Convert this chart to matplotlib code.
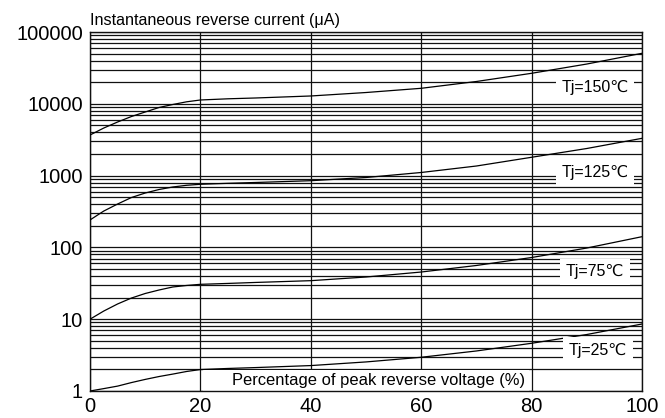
import matplotlib
matplotlib.use("Agg")
import matplotlib.pyplot as plt
from matplotlib.ticker import LogLocator, NullFormatter
from matplotlib.patches import Rectangle

plt.rcParams['font.family'] = ['Liberation Sans', 'DejaVu Sans']

# Percentage of peak reverse voltage (%)
pct = [0, 2.5, 5, 7.5, 10, 12.5, 15, 17.5, 20, 25, 30, 40, 50, 60, 70, 80, 90, 100]

# Instantaneous reverse current (uA)
tj150 = [3675, 4600, 5580, 6650, 7690, 8880, 9780, 10660, 11300, 11740, 12050, 12850, 14360, 16440, 20450, 26600, 35800, 50500]
tj125 = [241, 321, 402, 495, 572, 640, 694, 733, 757, 781, 802, 849, 941, 1105, 1360, 1800, 2385, 3305]
tj75 = [10, 13.0, 16.3, 19.7, 22.8, 25.5, 28.1, 29.5, 30.6, 31.5, 32.5, 34.4, 38.7, 45.4, 56, 72.3, 98, 141]
tj25 = [1.0, 1.08, 1.17, 1.31, 1.45, 1.59, 1.72, 1.87, 1.99, 2.06, 2.12, 2.26, 2.54, 2.95, 3.61, 4.62, 6.12, 8.57]

series = [tj150, tj125, tj75, tj25]
labels = ["Tj=150\u2103", "Tj=125\u2103", "Tj=75\u2103", "Tj=25\u2103"]
label_x = [91.5, 91.5, 91.5, 92.0]
label_y = [16600, 1120, 45.9, 3.7]

xticks = [0, 20, 40, 60, 80, 100]
yticks = [1, 10, 100, 1000, 10000, 100000]
ytick_labels = ["1", "10", "100", "1000", "10000", "100000"]

title = "Instantaneous reverse current (\u03bcA)"
xlabel = "Percentage of peak reverse voltage (%)"

fig = plt.figure(figsize=(6.65, 4.18), dpi=100)
ax = fig.add_axes([90 / 665, 27 / 418, 552 / 665, 359 / 418])

ax.set_yscale('log')
ax.set_xlim(0, 100)
ax.set_ylim(1, 100000)
ax.set_xticks(xticks)
ax.set_xticklabels([str(t) for t in xticks])
ax.set_yticks(yticks)
ax.set_yticklabels(ytick_labels)
ax.yaxis.set_minor_locator(LogLocator(base=10, subs=range(2, 10), numticks=20))
ax.yaxis.set_minor_formatter(NullFormatter())
ax.tick_params(which='both', length=0, labelsize=14.5)
ax.tick_params(axis='y', pad=5)
ax.tick_params(axis='x', pad=4)

ax.set_axisbelow(True)
ax.grid(True, which='major', axis='both', color='#111111', lw=0.9)
ax.grid(True, which='minor', axis='y', color='#111111', lw=0.9)
for s in ax.spines.values():
    s.set_color('#111111')
    s.set_linewidth(1.0)

ax.add_patch(Rectangle((20.4, 1.0), 59.2, 0.985, facecolor='white', edgecolor='none', zorder=1.5))

for vals in series:
    ax.plot(pct, vals, color='black', lw=0.9, zorder=3)

for lab, lx, ly in zip(labels, label_x, label_y):
    ax.text(lx, ly, lab, ha='center', va='center', fontsize=11.5, zorder=4,
            bbox=dict(facecolor='white', edgecolor='none', pad=4))

ax.text(52.2, 1.38, xlabel, ha='center', va='center', fontsize=11.9, zorder=4)
ax.text(0, 1.012, title, ha='left', va='bottom', fontsize=11.6, transform=ax.transAxes)

fig.savefig("out.png", dpi=100)
